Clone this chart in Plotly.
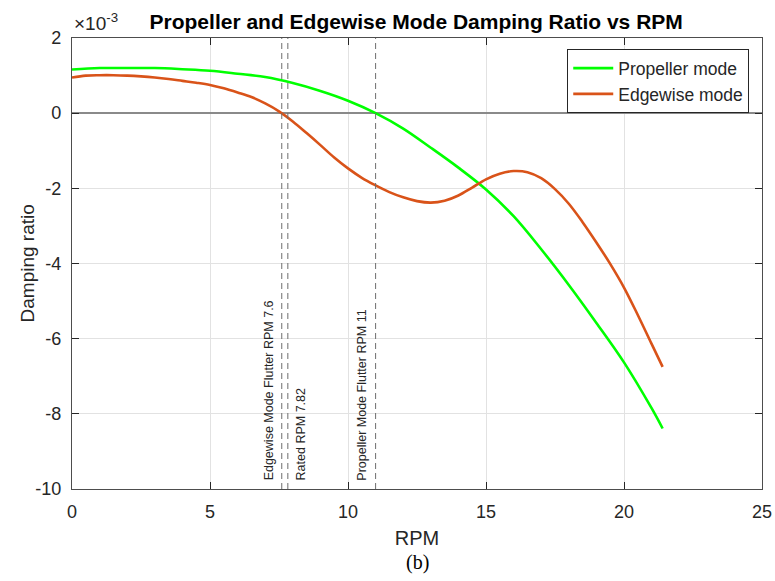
import plotly.graph_objects as go

# RPM sample points and damping ratio (x1e-3)
prop_rpm = [0, 1, 2, 3, 4, 5, 6, 7, 8, 9, 10, 11, 12, 13, 14, 15, 16, 17, 18, 19, 20,
            21, 21.4]
prop_damp = [1.16, 1.20, 1.20, 1.20, 1.17, 1.13, 1.05, 0.96, 0.80, 0.59, 0.33, 0.0,
             -0.41, -0.92, -1.45, -2.03, -2.74, -3.62, -4.57, -5.58, -6.63, -7.85, -8.39]

edge_rpm = [0, 0.5, 1, 1.5, 2, 2.5, 3, 3.5, 4, 4.5, 5, 5.5, 6, 6.5, 7, 7.5, 8, 8.5, 9,
            9.5, 10, 10.5, 11, 11.5, 12, 12.5, 13, 13.5, 14, 14.5, 15, 15.5, 16, 16.5,
            17, 17.5, 18, 18.5, 19, 19.5, 20, 20.5, 21, 21.4]
edge_damp = [0.95, 1.00, 1.01, 1.01, 1.00, 0.98, 0.95, 0.91, 0.86, 0.81, 0.75, 0.66,
             0.55, 0.43, 0.26, 0.05, -0.22, -0.53, -0.85, -1.18, -1.47, -1.72, -1.92,
             -2.10, -2.24, -2.34, -2.38, -2.33, -2.19, -1.98, -1.76, -1.61, -1.54, -1.57,
             -1.73, -2.02, -2.41, -2.90, -3.44, -4.01, -4.64, -5.37, -6.14, -6.75]

marker_rpm = [7.6, 7.82, 11]
marker_labels = ["Edgewise Mode Flutter RPM 7.6", "Rated RPM 7.82", "Propeller Mode Flutter RPM 11"]
marker_side = ["left", "right", "left"]

x_ticks = [0, 5, 10, 15, 20, 25]
y_ticks = [2, 0, -2, -4, -6, -8, -10]
y_tick_text = ["2", "0", "-2", "-4", "-6", "-8", "-10"]

FONT = "Liberation Sans, Arial, sans-serif"

fig = go.Figure()
fig.add_trace(go.Scatter(x=prop_rpm, y=prop_damp, mode="lines", name="Propeller mode",
                         line=dict(color="#00ff00", width=2.6, shape="spline", smoothing=1.0)))
fig.add_trace(go.Scatter(x=edge_rpm, y=edge_damp, mode="lines", name="Edgewise mode",
                         line=dict(color="#D95319", width=2.6, shape="spline", smoothing=1.0)))

for xv, lab, side in zip(marker_rpm, marker_labels, marker_side):
    fig.add_vline(x=xv, line=dict(color="#6e6e6e", width=1, dash="6px,4px"), layer="above")
    fig.add_annotation(x=xv, y=-9.83, text=lab, textangle=-90, showarrow=False,
                       xanchor="right" if side == "left" else "left", yanchor="bottom",
                       xshift=-4 if side == "left" else 4,
                       font=dict(family=FONT, size=12.5, color="#262626"))

fig.add_annotation(x=0, y=1, xref="paper", yref="paper", text="×10<sup>-3</sup>",
                   showarrow=False, xanchor="left", yanchor="bottom", yshift=2,
                   font=dict(family=FONT, size=19, color="#262626"))
fig.add_annotation(x=-0.0638, y=0.5, xref="paper", yref="paper", text="Damping ratio",
                   textangle=-90, showarrow=False, xanchor="center", yanchor="middle",
                   font=dict(family=FONT, size=19, color="#262626"))
fig.add_annotation(x=0.5, y=-0.164, xref="paper", yref="paper", text="(b)", showarrow=False,
                   xanchor="center", yanchor="middle",
                   font=dict(family="Liberation Serif, Times New Roman, serif", size=20, color="black"))

fig.update_layout(
    width=775, height=581,
    margin=dict(l=72, r=13, t=38, b=92, autoexpand=False),
    paper_bgcolor="white", plot_bgcolor="white",
    title=dict(text="<b>Propeller and Edgewise Mode Damping Ratio vs RPM</b>",
               x=0.537, xanchor="center", y=0.962, yanchor="middle", yref="container",
               automargin=False,
               font=dict(family=FONT, size=21, color="black")),
    font=dict(family=FONT, color="#262626"),
    showlegend=True,
    legend=dict(x=0.9815, y=0.975, xanchor="right", yanchor="top",
                bgcolor="white", bordercolor="#262626", borderwidth=1,
                font=dict(family=FONT, size=17.5, color="#262626"),
                tracegroupgap=0, itemwidth=40),
)
fig.update_xaxes(range=[0, 25], tickvals=x_ticks, ticks="inside", ticklen=7,
                 tickcolor="#262626", showline=True, linecolor="#4d4d4d", linewidth=1.2,
                 mirror="allticks", showgrid=True, gridcolor="#e2e2e2", gridwidth=1,
                 zeroline=False, tickfont=dict(size=18), ticklabelstandoff=6,
                 automargin=False,
                 title=dict(text="RPM", font=dict(size=20), standoff=10))
fig.update_yaxes(range=[-10, 2], tickvals=y_ticks, ticktext=y_tick_text, ticks="inside",
                 ticklen=7, tickcolor="#262626", showline=True, linecolor="#4d4d4d",
                 linewidth=1.2, mirror="allticks", showgrid=True, gridcolor="#e2e2e2",
                 gridwidth=1, zeroline=True, zerolinecolor="#8a8a8a", zerolinewidth=1.5,
                 tickfont=dict(size=18), ticklabelstandoff=6, automargin=False)

fig.write_html("out.html", config={"displayModeBar": False},
               post_script="document.body.style.margin='0';")
